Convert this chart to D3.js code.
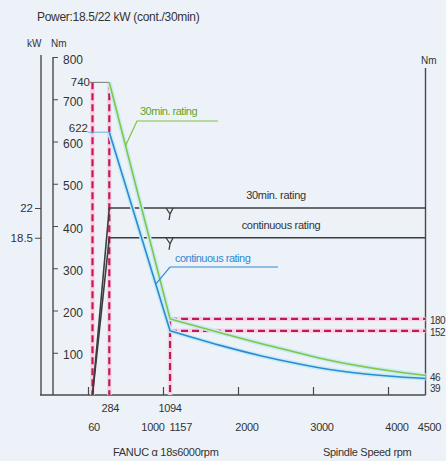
<!DOCTYPE html>
<html>
<head>
<meta charset="utf-8">
<script src="https://cdn.jsdelivr.net/npm/d3@7"></script>
<style>
  body { margin: 0; background: #edf2f9; }
  svg { display: block; font-family: "Liberation Sans", Arial, sans-serif; }
</style>
</head>
<body>
<script>
const width = 446
const height = 461

// torque curves (rpm / Nm)
const rpm30 = [284, 1094, 1750, 2300, 2800, 3200, 4000, 4500]
const nm30 = [740, 180, 148, 122, 100, 83, 58, 46]
const rpmCont = [284, 1094, 1750, 2300, 2800, 3200, 4000, 4500]
const nmCont = [622, 152, 118, 93, 74, 61, 45, 39]

// power curves (rpm / kW)
const rpmPower = [60, 284, 4500]
const kw30 = [0, 22, 22]
const kwCont = [0, 18.5, 18.5]

// tick labels
const nmTicks = [100, 200, 300, 400, 500, 600, 700, 800]
const kwTicks = [18.5, 22]
const rpmTicks = [0, 1000, 2000, 3000, 4000]
const rpmLabelsTop = [284, 1094]
const rpmLabelsBottom = [60, 1000, 1157, 2000, 3000, 4000, 4500]
const rightLabels = [180, 152, 46, 39]

// little nudges so the labels sit where the brochure put them
const labelNudge = {60: 1.5, 284: 1, 1000: -10, 1157: 6, 2000: 9, 3000: 9, 4000: 9, 4500: 4}

const x = d3.scaleLinear().domain([0, 4500]).range([88, 425.5])
const y = d3.scaleLinear().domain([0, 800]).range([395, 57])
const kw = d3.scaleLinear().domain([0, 22]).range([395, 208])

const svg = d3.select("body").append("svg")
    .attr("width", width)
    .attr("height", height)

svg.append("rect").attr("width", width).attr("height", height).attr("fill", "#edf2f9")

const ink = "#4a4a4a"
const pink = "#c2185b"

// title
svg.append("text")
    .attr("x", 37).attr("y", 21)
    .attr("font-size", 12).attr("fill", "#333")
    .attr("letter-spacing", -0.3)
    .text("Power:18.5/22 kW (cont./30min)")

// axis captions
svg.append("text").attr("x", 27).attr("y", 47).attr("font-size", 10).attr("fill", "#333").text("kW")
svg.append("text").attr("x", 51).attr("y", 47).attr("font-size", 10).attr("fill", "#333").text("Nm")
svg.append("text").attr("x", 421).attr("y", 64).attr("font-size", 10).attr("fill", "#333").text("Nm")

// kW axis
svg.append("line")
    .attr("x1", 41).attr("x2", 41)
    .attr("y1", kw(0)).attr("y2", kw(40))
    .attr("stroke", ink).attr("stroke-width", 1.4)
svg.append("g")
    .attr("transform", "translate(41,0)")
    .call(d3.axisLeft(kw).tickValues(kwTicks).tickSize(6).tickPadding(2).tickFormat(d => d))
    .call(g => g.select(".domain").remove())
    .call(g => g.selectAll("line").attr("stroke", ink))
    .call(g => g.selectAll("text").attr("font-size", 11.5).attr("fill", "#333").attr("font-family", null))

// Nm axis
svg.append("g")
    .attr("transform", "translate(53,0)")
    .call(d3.axisRight(y).tickValues(nmTicks).tickSize(5).tickSizeOuter(0).tickPadding(5))
    .call(g => g.select(".domain").attr("d", `M0,${y(0)}V${y(800)}`).attr("stroke", ink).attr("stroke-width", 1.4))
    .call(g => g.selectAll("line").attr("stroke", ink))
    .call(g => g.selectAll("text").attr("font-size", 12).attr("fill", "#333").attr("font-family", null).attr("dy", "0.5em"))

// right Nm axis
svg.append("line")
    .attr("x1", x(4500)).attr("x2", x(4500))
    .attr("y1", 68).attr("y2", y(0))
    .attr("stroke", ink).attr("stroke-width", 1.4)

// baseline with inner ticks
svg.append("line")
    .attr("x1", 40).attr("x2", x(4500))
    .attr("y1", y(0)).attr("y2", y(0))
    .attr("stroke", ink).attr("stroke-width", 1.4)
svg.append("g")
    .attr("transform", `translate(0,${y(0)})`)
    .call(d3.axisTop(x).tickValues(rpmTicks).tickSize(8).tickFormat(""))
    .call(g => g.select(".domain").remove())
    .call(g => g.selectAll("line").attr("stroke", ink).attr("stroke-width", 1.2))

// rpm labels
const rpmLabel = (vals, yPos) => svg.append("g")
    .attr("font-size", 11).attr("fill", "#333").attr("text-anchor", "middle")
    .attr("letter-spacing", -0.3)
    .selectAll("text").data(vals).join("text")
    .attr("x", d => x(d) + (labelNudge[d] || 0))
    .attr("y", yPos)
    .text(d => d)
rpmLabel(rpmLabelsTop, 412)
rpmLabel(rpmLabelsBottom, 431)

svg.append("text").attr("x", 113).attr("y", 456).attr("font-size", 11).attr("fill", "#333")
    .attr("letter-spacing", -0.3).text("FANUC α 18s6000rpm")
svg.append("text").attr("x", 323).attr("y", 456).attr("font-size", 11).attr("fill", "#333")
    .attr("letter-spacing", -0.3).text("Spindle Speed rpm")

// pink dashed reference lines
const dashed = (x1, y1, x2, y2) => {
  svg.append("line").attr("x1", x1).attr("y1", y1).attr("x2", x2).attr("y2", y2)
      .attr("stroke", "#f8d3e3").attr("stroke-width", 4.5)
  svg.append("line").attr("x1", x1).attr("y1", y1).attr("x2", x2).attr("y2", y2)
      .attr("stroke", pink).attr("stroke-width", 2.2).attr("stroke-dasharray", "7,4")
}
dashed(x(60), y(nm30[0]), x(60), y(0))
dashed(x(284), y(nm30[0]), x(284), y(0))
dashed(x(1094), y(rightLabels[0]), x(1094), y(0))
dashed(x(1094), y(rightLabels[0]), x(4500), y(rightLabels[0]))
dashed(x(1094), y(rightLabels[1]), x(4500), y(rightLabels[1]))

// peak torque labels with their leaders
svg.append("line").attr("x1", 90).attr("x2", x(284)).attr("y1", y(740)).attr("y2", y(740))
    .attr("stroke", "#777").attr("stroke-width", 1)
svg.append("line").attr("x1", 88).attr("x2", x(284)).attr("y1", y(622)).attr("y2", y(622))
    .attr("stroke", "#6aaedc").attr("stroke-width", 1)
svg.append("text").attr("x", 90).attr("y", y(740)).attr("dy", "0.35em").attr("text-anchor", "end")
    .attr("font-size", 11.5).attr("fill", "#333").text("740")
svg.append("text").attr("x", 88).attr("y", y(622) - 4).attr("dy", "0.35em").attr("text-anchor", "end")
    .attr("font-size", 11.5).attr("fill", "#333").text("622")

// power lines
const powerLine = d3.line().x((d, i) => x(rpmPower[i])).y(d => kw(d))
;[kw30, kwCont].forEach(s => {
  svg.append("path").attr("d", powerLine(s)).attr("fill", "none")
      .attr("stroke", "#3c3c3c").attr("stroke-width", 1.6)
  const bx = x(1094), by = kw(s[2])
  svg.append("path")
      .attr("d", `M${bx - 4},${by}L${bx},${by + 6}L${bx + 3},${by}M${bx},${by + 6}L${bx - 1},${by + 12}`)
      .attr("fill", "none").attr("stroke", "#3c3c3c").attr("stroke-width", 1.3)
})
svg.append("text").attr("x", 276).attr("y", 199).attr("text-anchor", "middle")
    .attr("font-size", 11).attr("fill", "#333").attr("letter-spacing", -0.3).text("30min. rating")
svg.append("text").attr("x", 281).attr("y", 229).attr("text-anchor", "middle")
    .attr("font-size", 11).attr("fill", "#333").attr("letter-spacing", -0.3).text("continuous rating")

// torque curves: straight drop to the corner speed, smooth tail after it
const drawCurve = (rpms, vals, color) => {
  const tail = d3.line().x((d, i) => x(rpms[i + 1])).y(d => y(d)).curve(d3.curveMonotoneX)
  const d = `M${x(rpms[0])},${y(vals[0])}L` + tail(vals.slice(1)).slice(1)
  svg.append("path").attr("d", d).attr("fill", "none")
      .attr("stroke", "#c6ecf4").attr("stroke-width", 4.5)
  svg.append("path").attr("d", d).attr("fill", "none")
      .attr("stroke", color).attr("stroke-width", 1.6)
}
drawCurve(rpm30, nm30, "#86c443")
drawCurve(rpmCont, nmCont, "#2e8bd3")

// curve labels with leaders
svg.append("path").attr("d", `M${x(500)},${y(590)}L137,121H218`)
    .attr("fill", "none").attr("stroke", "#7cc242").attr("stroke-width", 1.2)
svg.append("text").attr("x", 140).attr("y", 115).attr("font-size", 11)
    .attr("fill", "#5aa82a").attr("letter-spacing", -0.5).text("30min. rating")
svg.append("path").attr("d", `M${x(900)},${y(262)}L170,267H278`)
    .attr("fill", "none").attr("stroke", "#2e8bd3").attr("stroke-width", 1.2)
svg.append("text").attr("x", 175).attr("y", 262).attr("font-size", 11)
    .attr("fill", "#2e8bd3").attr("letter-spacing", -0.5).text("continuous rating")

// right-hand torque values, pushed apart when they crowd
let lastY = -Infinity
rightLabels.forEach(v => {
  let ly = y(v) + 2
  if (ly - lastY < 11) ly = lastY + 11
  lastY = ly
  svg.append("text").attr("x", 430).attr("y", ly).attr("dy", "0.35em")
      .attr("font-size", 10).attr("letter-spacing", -0.6).attr("fill", "#333").text(v)
})
</script>
</body>
</html>
